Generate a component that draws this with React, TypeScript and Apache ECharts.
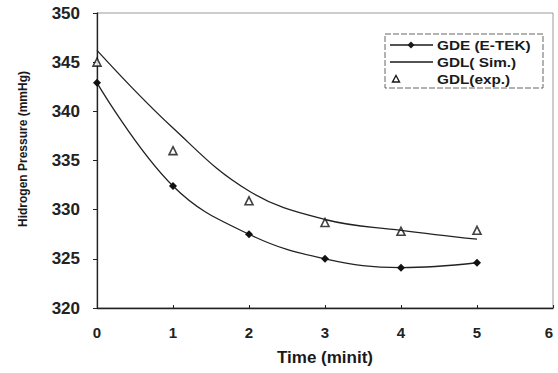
import React, { useEffect, useRef } from "react";
import * as echarts from "echarts";

const timeCategories = [0, 1, 2, 3, 4, 5];
const gdeEtek = [342.9, 332.4, 327.5, 325.0, 324.1, 324.6];
const gdlSim = [346.2, 338.3, 331.9, 329.0, 327.9, 327.0];
const gdlExp = [345.0, 336.0, 330.9, 328.7, 327.8, 327.9];
const yTicks = [320, 325, 330, 335, 340, 345, 350];
const xTicks = [0, 1, 2, 3, 4, 5, 6];
const legendNames = ["GDE (E-TEK)", "GDL( Sim.)", "GDL(exp.)"];

const FONT = "Liberation Sans, Arial, sans-serif";
const INK = "#1a1a1a";

export default function App() {
  const ref = useRef<HTMLDivElement>(null);
  useEffect(() => {
    document.body.style.margin = "0";
    if (!ref.current) return;
    const chart = echarts.init(ref.current, null, { renderer: "svg" });
    const pair = (arr: number[]) => timeCategories.map((t, i) => [t, arr[i]]);
    const legendText = (name: string, y: number) => ({
      type: "text",
      x: 437,
      y,
      scaleX: 1.18,
      style: {
        text: name,
        fontFamily: FONT,
        fontSize: 13,
        fontWeight: "bold",
        fill: INK,
        align: "left",
        verticalAlign: "middle",
      },
    });
    chart.setOption({
      animation: false,
      backgroundColor: "#ffffff",
      grid: {
        left: 97,
        right: 5,
        top: 13,
        bottom: 65,
        show: true,
        borderColor: "#9a9a9a",
        borderWidth: 1,
      },
      xAxis: {
        type: "value",
        min: xTicks[0],
        max: xTicks[xTicks.length - 1],
        interval: 1,
        name: "Time (minit)",
        nameLocation: "middle",
        nameGap: 41,
        nameTextStyle: { fontFamily: FONT, fontSize: 17, fontWeight: "bold", color: INK },
        axisLine: { show: true, lineStyle: { color: "#222", width: 1.3 } },
        axisTick: { show: true, inside: true, length: 3, lineStyle: { color: "#222" } },
        axisLabel: {
          fontFamily: FONT,
          fontSize: 15,
          fontWeight: "bold",
          color: "#222",
          margin: 17,
          alignMaxLabel: "right",
        },
        splitLine: { show: false },
      },
      yAxis: {
        type: "value",
        min: yTicks[0],
        max: yTicks[yTicks.length - 1],
        interval: 5,
        axisLine: { show: true, lineStyle: { color: "#222", width: 1.3 } },
        axisTick: { show: true, length: 4, lineStyle: { color: "#222" } },
        axisLabel: { fontFamily: FONT, fontSize: 17, fontWeight: "bold", color: "#222", margin: 17 },
        splitLine: { show: false },
      },
      graphic: [
        {
          type: "text",
          x: 23,
          y: 149,
          rotation: Math.PI / 2,
          style: {
            text: "Hidrogen Pressure (mmHg)",
            fontFamily: FONT,
            fontSize: 12,
            fontWeight: "bold",
            fill: INK,
            align: "center",
            verticalAlign: "middle",
          },
        },
        {
          type: "rect",
          shape: { x: 385, y: 34, width: 158, height: 54 },
          style: { fill: "#ffffff", stroke: "#666", lineWidth: 1, lineDash: [6, 2] },
        },
        {
          type: "line",
          shape: { x1: 390, y1: 45, x2: 433, y2: 45 },
          style: { stroke: INK, lineWidth: 1.3 },
        },
        {
          type: "polygon",
          shape: { points: [[411, 41.5], [414.5, 45], [411, 48.5], [407.5, 45]] },
          style: { fill: INK },
        },
        {
          type: "line",
          shape: { x1: 390, y1: 62, x2: 433, y2: 62 },
          style: { stroke: INK, lineWidth: 1.3 },
        },
        {
          type: "polygon",
          shape: { points: [[396, 75.5], [399.5, 82], [392.5, 82]] },
          style: { fill: "#ffffff", stroke: INK, lineWidth: 1.4 },
        },
        legendText(legendNames[0], 45),
        legendText(legendNames[1], 62),
        legendText(legendNames[2], 79),
      ],
      series: [
        {
          name: legendNames[0],
          type: "line",
          smooth: 0.4,
          data: pair(gdeEtek),
          symbol: "diamond",
          symbolSize: 8,
          itemStyle: { color: "#111" },
          lineStyle: { color: "#222", width: 1.3 },
        },
        {
          name: legendNames[1],
          type: "line",
          smooth: 0.4,
          data: pair(gdlSim),
          symbol: "none",
          itemStyle: { color: "#222" },
          lineStyle: { color: "#222", width: 1.3 },
        },
        {
          name: legendNames[2],
          type: "scatter",
          data: pair(gdlExp),
          symbol: "triangle",
          symbolSize: 8,
          itemStyle: { color: "#ffffff", borderColor: "#111", borderWidth: 1.6 },
        },
      ],
    });
    return () => chart.dispose();
  }, []);
  return <div ref={ref} style={{ width: 558, height: 373 }} />;
}
